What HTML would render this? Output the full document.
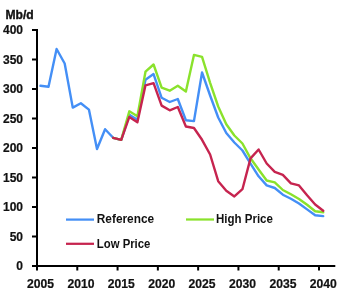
<!DOCTYPE html>
<html><head><meta charset="utf-8"><style>
html,body{margin:0;padding:0;background:#fff;}
svg{display:block;will-change:transform;}
text{font-family:"Liberation Sans",sans-serif;font-weight:bold;font-size:12px;fill:#111;}
.n{stroke:#111;stroke-width:0.2px;}
</style></head><body>
<svg width="353" height="302" viewBox="0 0 353 302">
<rect width="353" height="302" fill="#fff"/>
<text x="5.4" y="18.6" font-size="9.9" textLength="28.3" lengthAdjust="spacingAndGlyphs" stroke="#111" stroke-width="0.35">Mb/d</text>
<g stroke="#000" stroke-width="2" fill="none">
<line x1="37" y1="29" x2="37" y2="267"/>
<line x1="36" y1="266" x2="335.3" y2="266"/>
<line x1="37" y1="266" x2="37" y2="270.5"/>
<line x1="32" y1="266.00" x2="37" y2="266.00"/><line x1="32" y1="236.50" x2="37" y2="236.50"/><line x1="32" y1="207.00" x2="37" y2="207.00"/><line x1="32" y1="177.50" x2="37" y2="177.50"/><line x1="32" y1="148.00" x2="37" y2="148.00"/><line x1="32" y1="118.50" x2="37" y2="118.50"/><line x1="32" y1="89.00" x2="37" y2="89.00"/><line x1="32" y1="59.50" x2="37" y2="59.50"/><line x1="32" y1="30.00" x2="37" y2="30.00"/>
<line x1="77.28" y1="266" x2="77.28" y2="270.5"/><line x1="117.57" y1="266" x2="117.57" y2="270.5"/><line x1="157.86" y1="266" x2="157.86" y2="270.5"/><line x1="198.14" y1="266" x2="198.14" y2="270.5"/><line x1="238.43" y1="266" x2="238.43" y2="270.5"/><line x1="278.71" y1="266" x2="278.71" y2="270.5"/><line x1="319.00" y1="266" x2="319.00" y2="270.5"/>
</g>
<text x="23" y="270.30" text-anchor="end" class="n">0</text><text x="23" y="240.80" text-anchor="end" class="n">50</text><text x="23" y="211.30" text-anchor="end" class="n">100</text><text x="23" y="181.80" text-anchor="end" class="n">150</text><text x="23" y="152.30" text-anchor="end" class="n">200</text><text x="23" y="122.80" text-anchor="end" class="n">250</text><text x="23" y="93.30" text-anchor="end" class="n">300</text><text x="23" y="63.80" text-anchor="end" class="n">350</text><text x="23" y="34.30" text-anchor="end" class="n">400</text>
<text x="27.04" y="287.5" textLength="27" lengthAdjust="spacingAndGlyphs" class="n">2005</text><text x="67.44" y="287.5" textLength="27" lengthAdjust="spacingAndGlyphs" class="n">2010</text><text x="107.84" y="287.5" textLength="27" lengthAdjust="spacingAndGlyphs" class="n">2015</text><text x="148.24" y="287.5" textLength="27" lengthAdjust="spacingAndGlyphs" class="n">2020</text><text x="188.64" y="287.5" textLength="27" lengthAdjust="spacingAndGlyphs" class="n">2025</text><text x="229.04" y="287.5" textLength="27" lengthAdjust="spacingAndGlyphs" class="n">2030</text><text x="269.44" y="287.5" textLength="27" lengthAdjust="spacingAndGlyphs" class="n">2035</text><text x="309.84" y="287.5" textLength="27" lengthAdjust="spacingAndGlyphs" class="n">2040</text>
<g fill="none" stroke-width="2.4" stroke-linejoin="round" stroke-linecap="round">
<polyline stroke="#448ff6" points="40.44,85.80 48.52,86.80 56.60,49.00 64.68,63.50 72.76,107.60 80.84,103.20 88.92,109.60 97.00,149.00 105.08,129.20 113.16,137.80 121.24,139.80 129.32,114.90 137.40,119.80 145.48,79.80 153.56,74.10 161.64,97.80 169.72,102.00 177.80,99.00 185.88,120.30 193.96,121.10 202.04,72.50 210.12,95.50 218.20,117.50 226.28,133.00 234.36,142.50 242.44,150.50 250.52,163.60 258.60,176.30 266.68,185.40 274.76,188.00 282.84,194.70 290.92,198.80 299.00,203.50 307.08,209.40 315.16,215.30 323.24,216.10"/>
<polyline stroke="#8ae22c" points="113.16,137.80 121.24,139.80 129.32,111.30 137.40,116.30 145.48,71.70 153.56,64.50 161.64,87.70 169.72,90.70 177.80,85.80 185.88,91.50 193.96,54.90 202.04,56.90 210.12,82.80 218.20,106.50 226.28,124.20 234.36,135.50 242.44,143.50 250.52,158.30 258.60,169.50 266.68,180.50 274.76,182.30 282.84,190.00 290.92,194.30 299.00,199.00 307.08,204.80 315.16,211.20 323.24,212.30"/>
<polyline stroke="#c6244f" points="113.16,137.80 121.24,139.80 129.32,116.90 137.40,122.30 145.48,85.30 153.56,83.10 161.64,105.60 169.72,110.30 177.80,107.00 185.88,126.50 193.96,128.00 202.04,139.80 210.12,154.50 218.20,181.20 226.28,190.70 234.36,196.40 242.44,189.20 250.52,158.40 258.60,149.50 266.68,163.50 274.76,171.80 282.84,174.80 290.92,183.30 299.00,185.40 307.08,195.30 315.16,204.50 323.24,210.70"/>
</g>
<g stroke-width="2.25">
<line x1="66" y1="219.6" x2="94" y2="219.6" stroke="#448ff6"/>
<line x1="186" y1="219.5" x2="214" y2="219.5" stroke="#8ae22c"/>
<line x1="66" y1="243.8" x2="94" y2="243.8" stroke="#c6244f"/>
</g>
<text x="96.8" y="223.3" textLength="57.3" lengthAdjust="spacingAndGlyphs">Reference</text>
<text x="216.0" y="223.3" textLength="56.9" lengthAdjust="spacingAndGlyphs">High Price</text>
<text x="96.8" y="247.8" textLength="53.6" lengthAdjust="spacingAndGlyphs">Low Price</text>
</svg>
</body></html>
